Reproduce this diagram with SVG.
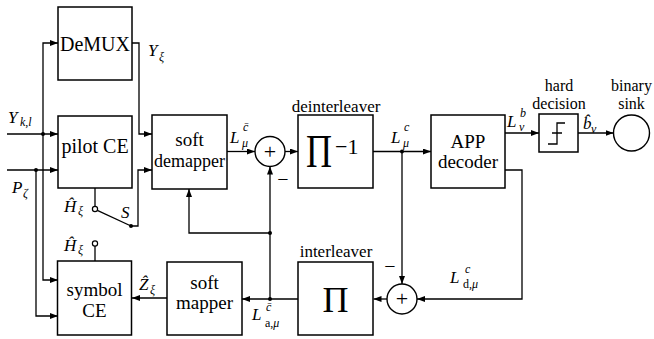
<svg xmlns="http://www.w3.org/2000/svg" width="654" height="339" viewBox="0 0 654 339" font-family="Liberation Serif, DejaVu Serif, Times New Roman, serif">
<defs>
<marker id="ah" markerWidth="8" markerHeight="6" refX="8" refY="3" orient="auto" markerUnits="userSpaceOnUse"><path d="M0,0 L8,3 L0,6 z" fill="#000"/></marker>
<style>
.box{fill:#fff;stroke:#000;stroke-width:1.5}
.ln{fill:none;stroke:#000;stroke-width:1.3}
.ar{fill:none;stroke:#000;stroke-width:1.3;marker-end:url(#ah)}
.dot{fill:#000}
.oc{fill:#fff;stroke:#000;stroke-width:1.2}
text{font-family:'Liberation Serif','DejaVu Serif',serif;fill:#000}
.bt{font-size:19px;text-anchor:middle}
.lb{font-size:16px;text-anchor:middle}
.m{font-size:17px;font-style:italic}
.s{font-size:12px;font-style:italic}
.r{font-style:normal}
</style>
</defs>
<rect width="654" height="339" fill="#fff"/>

<g id="connectors">
<path class="ar" d="M7,134 H58"/>
<path class="ar" d="M43,134 V43 H58"/>
<path class="ar" d="M43,134 V280 H58"/>
<path class="ar" d="M7,170 H58"/>
<path class="ar" d="M36,170 V316 H58"/>
<path class="ar" d="M132,43 H139 V134 H152"/>
<path class="ln" d="M95,188 V206.5"/>
<path class="ln" d="M97.3,210.3 L131,226"/>
<path class="ar" d="M131,226 H138 V170 H152"/>
<path class="ln" d="M95,261 V246"/>
<path class="ar" d="M227,151.5 H255"/>
<path class="ar" d="M285,151.5 H298"/>
<path class="ar" d="M373,151.5 H431"/>
<path class="ar" d="M402,151.5 V284"/>
<path class="ar" d="M270,299 V166.5"/>
<path class="ar" d="M270,233 H189 V189"/>
<path class="ar" d="M298,299 H242"/>
<path class="ar" d="M387,299 H373.5"/>
<path class="ar" d="M505,170 H522 V299 H417"/>
<path class="ar" d="M505,133 H539"/>
<path class="ar" d="M578,133 H613.5"/>
<path class="ar" d="M167,298 H132"/>
<circle class="dot" cx="43" cy="134" r="2"/>
<circle class="dot" cx="36" cy="170" r="2"/>
<circle class="dot" cx="131" cy="226" r="2"/>
<circle class="dot" cx="402" cy="151.5" r="2"/>
<circle class="dot" cx="270" cy="233" r="2"/>
<circle class="dot" cx="270" cy="299" r="2"/>
<circle class="oc" cx="95" cy="209" r="2.6"/>
<circle class="oc" cx="95" cy="243.5" r="2.6"/>
</g>

<g id="demux">
<rect class="box" x="58" y="7" width="74" height="73"/>
<text class="bt" x="95" y="51" style="font-size:20px">DeMUX</text>
</g>
<g id="pilot-ce">
<rect class="box" x="58" y="116" width="74" height="72"/>
<text class="bt" x="95" y="153" style="font-size:20px">pilot CE</text>
</g>
<g id="soft-demapper">
<rect class="box" x="152" y="115" width="75" height="74"/>
<text class="bt"><tspan x="189.5" y="145.5">soft</tspan><tspan x="189.5" y="166.5" style="font-size:18px">demapper</tspan></text>
</g>
<g id="sum1">
<circle class="oc" cx="270" cy="151.5" r="15" style="stroke-width:1.4"/>
<text x="270" y="158.5" style="font-size:22px;text-anchor:middle">+</text>
<text x="283" y="186" style="font-size:20px;text-anchor:middle">−</text>
</g>
<g id="deinterleaver">
<text class="lb" x="336" y="111.5" style="font-size:17px">deinterleaver</text>
<rect class="box" x="298" y="115" width="75" height="73"/>
<text transform="translate(319,167.3) scale(1,1.28)" style="font-size:36px;text-anchor:middle">Π</text>
<text x="335" y="154" style="font-size:22px">−1</text>
</g>
<g id="app-decoder">
<rect class="box" x="431" y="115" width="74" height="73"/>
<text class="bt"><tspan x="468" y="147.5">APP</tspan><tspan x="468" y="167.5">decoder</tspan></text>
</g>
<g id="hard-decision">
<text class="lb"><tspan x="559" y="90.5">hard</tspan><tspan x="559" y="108.5">decision</tspan></text>
<rect class="box" x="539" y="114" width="39" height="38"/>
<path class="ln" d="M548,144 H557 V123 H565 M552,133 H562"/>
</g>
<g id="binary-sink">
<text class="lb"><tspan x="631.5" y="90.5">binary</tspan><tspan x="631.5" y="108.5">sink</tspan></text>
<circle class="oc" cx="631.5" cy="133" r="18" style="stroke-width:1.4"/>
</g>
<g id="symbol-ce">
<rect class="box" x="57.5" y="261" width="74" height="74"/>
<text class="bt"><tspan x="94.5" y="295.5">symbol</tspan><tspan x="94.5" y="316.5">CE</tspan></text>
</g>
<g id="soft-mapper">
<rect class="box" x="167" y="262" width="75" height="73"/>
<text class="bt"><tspan x="204.5" y="288.5">soft</tspan><tspan x="204.5" y="308.5">mapper</tspan></text>
</g>
<g id="interleaver">
<text class="lb" x="336" y="256.5" style="font-size:17px">interleaver</text>
<rect class="box" x="298" y="262" width="75" height="73"/>
<text x="335.5" y="311.5" style="font-size:36px;text-anchor:middle">Π</text>
</g>
<g id="sum2">
<circle class="oc" cx="402" cy="299" r="15" style="stroke-width:1.4"/>
<text x="402" y="306" style="font-size:22px;text-anchor:middle">+</text>
<text x="390" y="273" style="font-size:20px;text-anchor:middle">−</text>
</g>

<g id="labels">
<text class="m" x="148" y="56">Y</text><text class="s" x="159" y="61">ξ</text>
<text class="m" x="8" y="122.5">Y</text><text class="s" x="20" y="126">k<tspan class="r">,</tspan>l</text>
<text class="m" x="12" y="193">P</text><text class="s" x="23" y="197">ζ</text>
<text class="m" x="64" y="211.5">Ĥ</text><text class="s" x="78" y="215">ξ</text>
<text class="m" x="64" y="250.5">Ĥ</text><text class="s" x="78" y="254">ξ</text>
<text class="m" x="121" y="218">S</text>
<text class="m" x="139" y="290">Ẑ</text><text class="s" x="150" y="294">ξ</text>
<text class="m" x="230" y="143">L</text><text class="s" x="243" y="131">c̄</text><text class="s" x="242" y="147">μ</text>
<text class="m" x="391" y="143">L</text><text class="s" x="404" y="131">c</text><text class="s" x="403" y="147">μ</text>
<text class="m" x="507" y="127">L</text><text class="s" x="520" y="117">b</text><text class="s" x="519" y="131">ν</text>
<text class="m" x="583" y="129">b̂</text><text class="s" x="591" y="133">ν</text>
<text class="m" x="450" y="283">L</text><text class="s" x="465" y="273">c</text><text class="s" x="463" y="288"><tspan class="r">d,</tspan>μ</text>
<text class="m" x="252" y="320">L</text><text class="s" x="266" y="311">c̄</text><text class="s" x="265" y="327"><tspan class="r">a,</tspan>μ</text>
</g>
</svg>
